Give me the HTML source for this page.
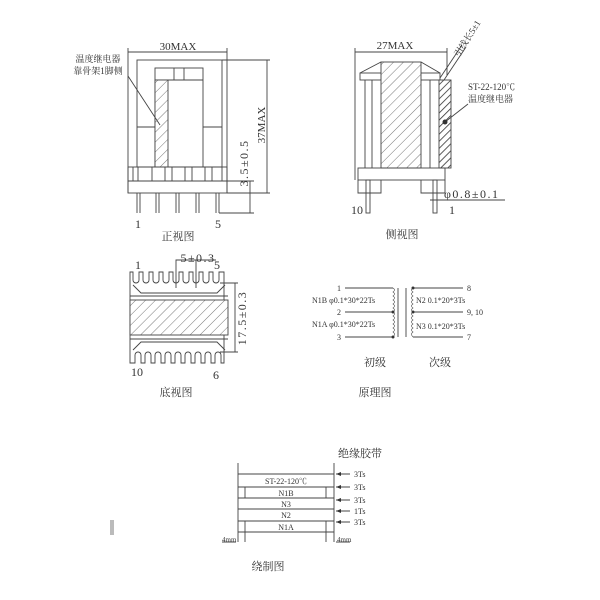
<!DOCTYPE html>
<html><head><meta charset="utf-8"><style>
body{margin:0;background:#fff}
svg{display:block}
text{font-family:"Liberation Serif","Noto Serif CJK SC",serif;fill:#333}
.sp{letter-spacing:1.5px}
</style></head><body>
<svg width="600" height="600" viewBox="0 0 600 600" xmlns="http://www.w3.org/2000/svg">
<defs>
<pattern id="h" width="7" height="7" patternUnits="userSpaceOnUse" patternTransform="rotate(45)">
<rect width="7" height="7" fill="#fff"/><line x1="0" y1="0" x2="0" y2="7" stroke="#555" stroke-width="0.8"/></pattern>
<pattern id="h2" width="5" height="5" patternUnits="userSpaceOnUse" patternTransform="rotate(45)">
<rect width="5" height="5" fill="#fff"/><line x1="0" y1="0" x2="0" y2="5" stroke="#333" stroke-width="1.6"/></pattern>
</defs>
<g fill="none" stroke="#444" stroke-width="0.9">
<line x1="128" y1="52" x2="227" y2="52"/><line x1="128" y1="48" x2="128" y2="193"/><line x1="227" y1="48" x2="227" y2="193"/>
<rect x="137" y="60" width="85" height="107"/>
<line x1="222" y1="60" x2="270" y2="60"/>
<rect x="155" y="68" width="48" height="99"/>
<line x1="155" y1="80" x2="203" y2="80"/><line x1="174" y1="68" x2="174" y2="80"/><line x1="184" y1="68" x2="184" y2="80"/>
<rect x="155" y="80" width="13" height="87" fill="url(#h)"/>
<line x1="137" y1="127" x2="155" y2="127"/><line x1="203" y1="127" x2="222" y2="127"/>
<rect x="128" y="167" width="99" height="14"/>
<path d="M133 167v14M138 167v14M152 167v14M165 167v14M172 167v14M185 167v14M192 167v14M205 167v14M212 167v14M222 167v14"/>
<rect x="128" y="181" width="99" height="12"/>
<path d="M137 193v20M140 193v20M156 193v20M159 193v20M176 193v20M179 193v20M196 193v20M199 193v20M216 193v20M219 193v20"/>
<line x1="219" y1="213" x2="254" y2="213"/><line x1="227" y1="181" x2="254" y2="181"/><line x1="227" y1="193" x2="270" y2="193"/>
<line x1="267" y1="60" x2="267" y2="193"/><line x1="250" y1="181" x2="250" y2="213"/>
<line x1="128" y1="76" x2="160" y2="125"/>
<line x1="355" y1="52" x2="447" y2="52"/><line x1="355" y1="48" x2="355" y2="180"/><line x1="447" y1="48" x2="447" y2="75"/>
<rect x="360" y="73" width="80" height="7"/>
<path d="M360 73L381 62M440 73L421 62"/>
<rect x="381" y="62" width="40" height="106" fill="url(#h)"/>
<path d="M365 80v88M372 80v88M430 80v88"/>
<rect x="439" y="80" width="12" height="88" fill="url(#h2)"/>
<rect x="358" y="168" width="87" height="12"/>
<path d="M358 180v13h23v-13M421 180v13h24v-13"/>
<rect x="366" y="180" width="4" height="33"/><rect x="433" y="180" width="4" height="33"/>
<path d="M440 78L462 45M444 80L466 47"/>
<line x1="445" y1="122" x2="468" y2="104"/>
<line x1="430" y1="200" x2="505" y2="200"/>
<path d="M130 272h3v8a3 3 0 0 0 6 0v-8h4v8a3 3 0 0 0 6 0v-8h4v8a3 3 0 0 0 6 0v-8h4v8a3 3 0 0 0 6 0v-8h4v8a3 3 0 0 0 6 0v-8h4v8a3 3 0 0 0 6 0v-8h4v8a3 3 0 0 0 6 0v-8h4v8a3 3 0 0 0 6 0v-8h4v8a3 3 0 0 0 6 0v-8h5v91h-3v-8a3 3 0 0 0 -6 0v8h-4v-8a3 3 0 0 0 -6 0v8h-4v-8a3 3 0 0 0 -6 0v8h-4v-8a3 3 0 0 0 -6 0v8h-4v-8a3 3 0 0 0 -6 0v8h-4v-8a3 3 0 0 0 -6 0v8h-4v-8a3 3 0 0 0 -6 0v8h-4v-8a3 3 0 0 0 -6 0v8h-4v-8a3 3 0 0 0 -6 0v8h-5z"/>
<path d="M133 285l8 8h76l8-8M133 350l8-8h76l8 8"/>
<line x1="130" y1="296" x2="228" y2="296"/><line x1="130" y1="339" x2="228" y2="339"/>
<rect x="130" y="300" width="98" height="35" fill="url(#h)"/>
<path d="M176 288v-28h40M196 288v-28"/>
<path d="M220 283h18M220 352h18M235 283v69"/>
<path d="M345 288h48M345 312h48M345 337h48"/>
<path d="M393 288q3 2 0 4q3 2 0 4q3 2 0 4q3 2 0 4q3 2 0 4q3 2 0 4q3 2 0 4q3 2 0 4q3 2 0 4q3 2 0 4q3 2 0 4q3 2 0 5" stroke-width="0.6"/>
<path d="M398 288v49M406 288v49"/>
<path d="M413 288q-3 2 0 4q-3 2 0 4q-3 2 0 4q-3 2 0 4q-3 2 0 4q-3 2 0 4q-3 2 0 4q-3 2 0 4q-3 2 0 4q-3 2 0 4q-3 2 0 4q-3 2 0 5" stroke-width="0.6"/>
<path d="M413 288h50M413 312h50M413 337h50"/>
<path d="M238 463v79M334 463v79"/>
<path d="M238 474h96M238 487h96M238 498h96M238 509h96M238 521h96M238 532h96"/>
<path d="M245 487v11M326 487v11M245 521v21M326 521v21"/>
<path d="M350 474h-14M350 487h-14M350 500h-14M350 511h-14M350 522h-14"/>
<path d="M222 542h14M336 542h14"/>
</g>
<g fill="#333">
<circle cx="393" cy="312" r="1.5"/><circle cx="393" cy="337" r="1.5"/><circle cx="413" cy="288" r="1.5"/><circle cx="413" cy="312" r="1.5"/>
<circle cx="445" cy="122" r="2.5"/>
<path d="M336 474l5-2v4zM336 487l5-2v4zM336 500l5-2v4zM336 511l5-2v4zM336 522l5-2v4z"/>
<rect x="110" y="520" width="4" height="15" fill="#bbb"/>
</g>
<g font-size="11">
<text x="178" y="50" text-anchor="middle">30MAX</text>
<text x="98" y="62" text-anchor="middle" font-size="9">温度继电器</text>
<text x="98" y="74" text-anchor="middle" font-size="9">靠骨架1脚侧</text>
<text x="138" y="228" text-anchor="middle" font-size="12">1</text><text x="218" y="228" text-anchor="middle" font-size="12">5</text>
<text x="178" y="240" text-anchor="middle">正视图</text>
<text transform="translate(265,125) rotate(-90)" text-anchor="middle">37MAX</text>
<text class="sp" transform="translate(248,163) rotate(-90)" text-anchor="middle" font-size="12">3.5±0.5</text>
<text x="395" y="49" text-anchor="middle">27MAX</text>
<text transform="translate(470,40) rotate(-58)" text-anchor="middle" font-size="9">引线长5±1</text>
<text x="468" y="90" font-size="9">ST-22-120℃</text>
<text x="468" y="102" font-size="9">温度继电器</text>
<text x="357" y="214" text-anchor="middle" font-size="12">10</text><text x="452" y="214" text-anchor="middle" font-size="12">1</text>
<text class="sp" x="444" y="198" font-size="12">φ0.8±0.1</text>
<text x="402" y="238" text-anchor="middle">侧视图</text>
<text class="sp" x="198" y="262" text-anchor="middle" font-size="12">5±0.3</text>
<text x="138" y="269" text-anchor="middle" font-size="12">1</text><text x="217" y="269" text-anchor="middle" font-size="12">5</text>
<text x="137" y="376" text-anchor="middle" font-size="12">10</text><text x="216" y="379" text-anchor="middle" font-size="12">6</text>
<text x="176" y="396" text-anchor="middle">底视图</text>
<text class="sp" transform="translate(246,318) rotate(-90)" text-anchor="middle" font-size="12">17.5±0.3</text>
<text x="375" y="366" text-anchor="middle">初级</text><text x="440" y="366" text-anchor="middle">次级</text>
<text x="375" y="396" text-anchor="middle">原理图</text>
<text x="360" y="457" text-anchor="middle">绝缘胶带</text>
<text x="268" y="570" text-anchor="middle">绕制图</text>
</g>
<g font-size="8">
<text x="341" y="291" text-anchor="end">1</text><text x="341" y="315" text-anchor="end">2</text><text x="341" y="340" text-anchor="end">3</text>
<text x="312" y="303">N1B φ0.1*30*22Ts</text>
<text x="312" y="327">N1A φ0.1*30*22Ts</text>
<text x="416" y="303">N2 0.1*20*3Ts</text>
<text x="416" y="329">N3 0.1*20*3Ts</text>
<text x="467" y="291">8</text><text x="467" y="315">9, 10</text><text x="467" y="340">7</text>
<text x="286" y="484" text-anchor="middle">ST-22-120℃</text>
<text x="286" y="496" text-anchor="middle">N1B</text>
<text x="286" y="507" text-anchor="middle">N3</text>
<text x="286" y="518" text-anchor="middle">N2</text>
<text x="286" y="530" text-anchor="middle">N1A</text>
<text x="354" y="477">3Ts</text><text x="354" y="490">3Ts</text><text x="354" y="503">3Ts</text><text x="354" y="514">1Ts</text><text x="354" y="525">3Ts</text>
<text x="222" y="542" font-size="7">4mm</text><text x="337" y="542" font-size="7">4mm</text>
</g>
</svg>
</body></html>
